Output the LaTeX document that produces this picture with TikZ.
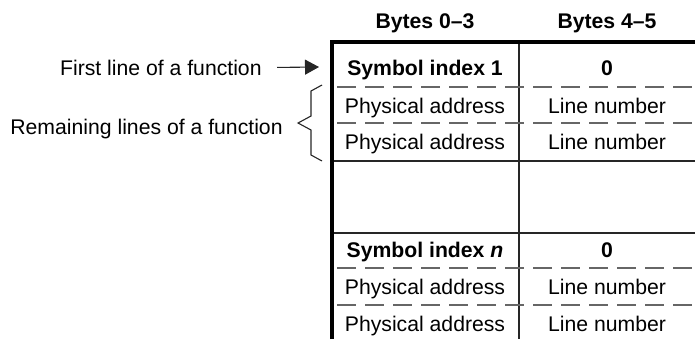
\documentclass[tikz,border=0pt]{standalone}
\usepackage{fontspec}
\setmainfont{Liberation Sans}
\usetikzlibrary{arrows.meta}

\begin{document}
\begin{tikzpicture}[x=0.5pt,y=-0.5pt,>={Triangle[length=7pt,width=7.5pt]},
  every node/.style={inner sep=0pt,font=\fontsize{10.6pt}{12pt}\selectfont},
  cell/.style={anchor=base},
  boldcell/.style={anchor=base,font=\fontsize{10.6pt}{12pt}\selectfont\bfseries},
  border/.style={line width=1.6pt,miter limit=4},
  rule/.style={line width=0.55pt,black!85},
  dashrule/.style={line width=0.6pt,black!60,dash pattern=on 9.5pt off 4.5pt,dash phase=-2pt}]
\useasboundingbox (0,0) rectangle (695,339);
%
\draw (425,28) node[boldcell] (headA) {Bytes 0--3};
\draw (headA.base) ++ (182,0) node[boldcell] (headB) {Bytes 4--5};
%
\draw[rule] (519,42) -- (519,339);
\foreach \y in {87,123,268,305}
  \draw[dashrule] (333,\y) -- (695,\y);
\foreach \y in {161,233}
  \draw[rule] (332,\y) -- (695,\y);
\draw[border] (332,339) -- (332,42) -- (695,42);
%
\draw (425,75) node[boldcell] (symA) {Symbol index 1};
\draw (symA.base) ++ (182,0) node[boldcell] (zeroA) {0};
\draw (425,257) node[boldcell] (symN) {Symbol index \textit{n}};
\draw (symN.base) ++ (182,0) node[boldcell] (zeroN) {0};
\foreach \y/\r in {113/a,149/b,294/c,331/d}
  \draw (425,\y) node[cell] (phys\r) {Physical address}
        (607,\y) node[cell] (line\r) {Line number};
%
\draw (262,75) node[anchor=base east] (firstLine) {First line of a function};
\coordinate (firstTip) at (319,67);
\path[draw,rule,->] (firstLine.east) ++ (15,0) -- (firstTip);
%
\draw (283,134) node[anchor=base east] (restLines) {Remaining lines of a function};
\coordinate (braceTop) at (322,85);
\draw[rule] (braceTop) -- ++(-11,6) -- ++(0,25) -- ++(-13,7)
  -- ++(13,7) -- ++(0,25) -- ++(11,6) coordinate (braceBot);
\end{tikzpicture}
\end{document}
